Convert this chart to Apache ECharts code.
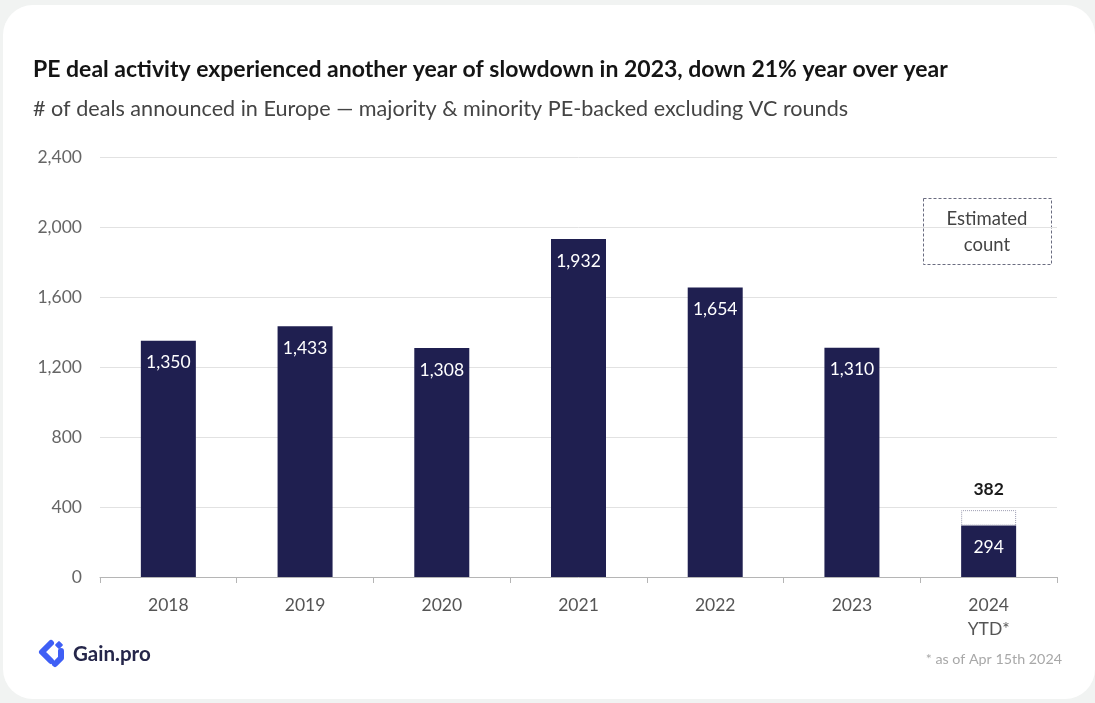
<!DOCTYPE html>
<html>
<head>
<meta charset="utf-8">
<script src="https://cdn.jsdelivr.net/npm/echarts@6/dist/echarts.min.js"></script>
<style>
  html, body { margin: 0; padding: 0; background: #f1f3f2; }
  #chart { width: 1095px; height: 703px; }
</style>
</head>
<body>
<div id="chart"></div>
<script>
// Deals announced per year (2024 is year-to-date)
const years = ['2018', '2019', '2020', '2021', '2022', '2023', '2024\nYTD*'];
const dealCounts = [1350, 1433, 1308, 1932, 1654, 1310, 294];
// Estimated full count, only for the partial year
const estimatedCounts = [null, null, null, null, null, null, 382];
const yTicks = [0, 400, 800, 1200, 1600, 2000, 2400];

const FONT = 'Lato';
const NAVY = '#1f1f50';

// Extra estimated portion stacked on top of the counted deals
const estimateExtra = estimatedCounts.map((v, i) => v == null ? null : v - dealCounts[i]);

const fmt = n => n.toLocaleString('en-US');

const chart = echarts.init(document.getElementById('chart'), null, { renderer: 'canvas' });

chart.setOption({
  backgroundColor: '#f1f3f2',
  animation: false,
  textStyle: { fontFamily: FONT },
  grid: { left: 100, right: 38, top: 157, bottom: 126 },
  graphic: [
    // white card
    { type: 'rect', z: -10, shape: { x: 3, y: 5, width: 1092, height: 694, r: 30 },
      style: { fill: '#ffffff' } },
    { type: 'text', x: 33, y: 70,
      style: { text: 'PE deal activity experienced another year of slowdown in 2023, down 21% year over year',
               font: 'bold 23px ' + FONT, fill: '#141414', verticalAlign: 'middle' } },
    { type: 'text', x: 33, y: 109,
      style: { text: '# of deals announced in Europe \u2014 majority & minority PE-backed excluding VC rounds',
               font: '21.6px ' + FONT, fill: '#444444', verticalAlign: 'middle' } },
    // legend for the estimated portion
    { type: 'rect', shape: { x: 923.5, y: 198.5, width: 128, height: 66 },
      style: { fill: 'none', stroke: '#6a6c80', lineWidth: 1, lineDash: [3, 2] } },
    { type: 'text', x: 987, y: 232,
      style: { text: 'Estimated\ncount', font: '18.5px ' + FONT, fill: '#444444',
               align: 'center', verticalAlign: 'middle', lineHeight: 26 } },
    { type: 'text', x: 1062, y: 659,
      style: { text: '* as of Apr 15th 2024', font: '14.3px ' + FONT, fill: '#a8a8a8',
               align: 'right', verticalAlign: 'middle' } },
    // Gain.pro mark
    { type: 'polyline', shape: { points: [[51, 643], [42, 652], [51, 661]] },
      style: { stroke: '#3f5ff5', lineWidth: 6, lineJoin: 'round', lineCap: 'round', fill: 'none' } },
    { type: 'rect', shape: { x: 56, y: 642, width: 6, height: 6, r: 1 }, rotation: Math.PI / 4,
      originX: 59, originY: 645, style: { fill: '#3f5ff5' } },
    { type: 'polyline', shape: { points: [[61, 651], [61, 658], [55, 664]] },
      style: { stroke: '#3f5ff5', lineWidth: 6, lineJoin: 'round', lineCap: 'round', fill: 'none' } },
    { type: 'text', x: 73, y: 654,
      style: { text: 'Gain.pro', font: 'bold 20.5px ' + FONT, fill: '#25264a', verticalAlign: 'middle' } }
  ],
  xAxis: {
    type: 'category',
    data: years,
    axisLine: { lineStyle: { color: '#b5b5b5', width: 1 } },
    axisTick: { show: true, alignWithLabel: false, length: 6, lineStyle: { color: '#b5b5b5' } },
    axisLabel: { color: '#555555', fontSize: 17.5, margin: 16, lineHeight: 24, fontFamily: FONT }
  },
  yAxis: {
    type: 'value',
    min: 0, max: 2400, interval: 400,
    axisLine: { show: false },
    axisTick: { show: false },
    splitLine: { lineStyle: { color: '#e2e2e2', width: 1 } },
    axisLabel: { color: '#666666', fontSize: 17.5, margin: 18, fontFamily: FONT,
                 formatter: v => yTicks.includes(v) ? fmt(v) : '' }
  },
  series: [
    {
      type: 'bar', stack: 'deals', barWidth: 55,
      data: dealCounts,
      itemStyle: { color: NAVY },
      label: { show: true, position: 'insideTop', distance: 13, color: '#ffffff',
               fontSize: 17.5, fontFamily: FONT, formatter: p => fmt(p.value) }
    },
    {
      type: 'bar', stack: 'deals', barWidth: 55,
      data: estimateExtra,
      itemStyle: { color: '#ffffff', borderColor: '#9a9ab0', borderWidth: 1, borderType: 'dotted' },
      label: { show: true, position: 'top', distance: 12, color: '#1a1a1a', fontWeight: 'bold',
               fontSize: 17.5, fontFamily: FONT,
               formatter: p => p.value == null ? '' : fmt(estimatedCounts[p.dataIndex]) }
    }
  ]
});
</script>
</body>
</html>
